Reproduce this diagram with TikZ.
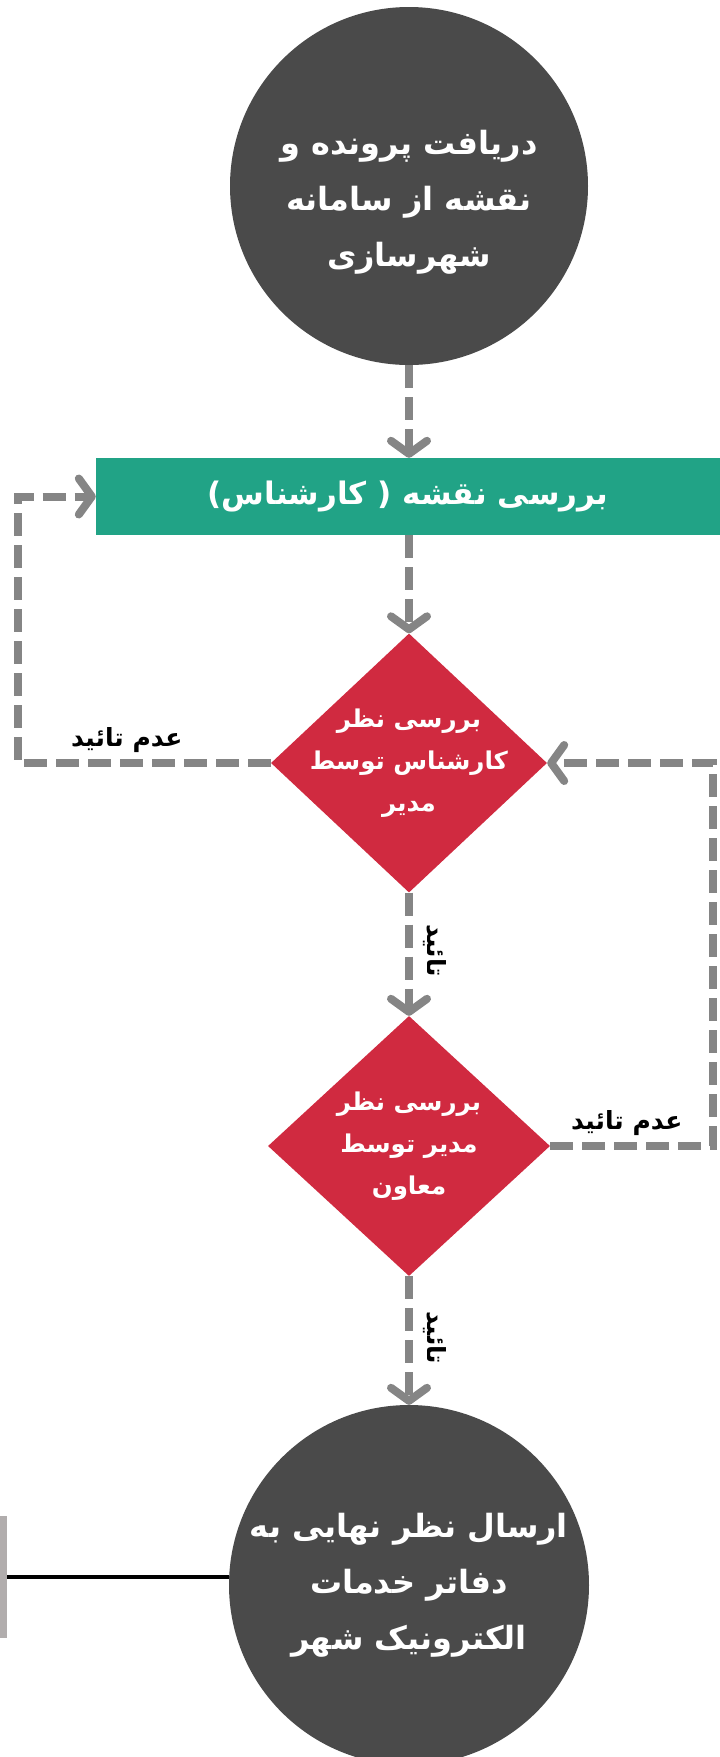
\documentclass[tikz,border=0pt]{standalone}
\usepackage{fontspec}
\usetikzlibrary{shapes.geometric,arrows.meta}
\TeXXeTstate=1
\newfontfamily\arabicfont[Script=Arabic]{DejaVu Sans}
\newcommand{\fatext}[1]{\beginR #1\endR}
\definecolor{circlegray}{HTML}{4A4A4A}
\definecolor{stepgreen}{HTML}{21A386}
\definecolor{checkred}{HTML}{D02A40}
\definecolor{flowgray}{HTML}{858585}
\definecolor{bargray}{HTML}{B1ADAD}
\begin{document}
\begin{tikzpicture}[x=1pt,y=-1pt]
        \tikzstyle{terminal}=[circle,fill=circlegray,minimum size=358pt,inner sep=0pt]
        \tikzstyle{roundtext}=[text=white,align=center,font=\arabicfont\bfseries\fontsize{32}{56}\selectfont]
        \tikzstyle{task}=[rectangle,fill=stepgreen,text=white,minimum width=624pt,minimum height=77pt,inner sep=0pt,font=\arabicfont\bfseries\fontsize{31}{36}\selectfont]
        \tikzstyle{decision}=[diamond,fill=checkred,minimum width=276pt,minimum height=259pt,inner sep=0pt]
        \tikzstyle{inside}=[text=white,align=center,font=\arabicfont\bfseries\fontsize{24.5}{42}\selectfont]
        \tikzstyle{answer}=[text=black,font=\arabicfont\bfseries\fontsize{25}{30}\selectfont,inner sep=6pt]
        \tikzstyle{edge}=[draw=flowgray,line width=8pt,dash pattern=on 23pt off 9pt,-{Straight Barb[length=13pt,width=36pt,round]}]
        \tikzstyle{bar}=[rectangle,fill=bargray,minimum width=7pt,minimum height=122pt,inner sep=0pt]
        \useasboundingbox (0,0) rectangle (720,1757);
        \node [terminal] (c1) at (409,186) {};
        \node [roundtext] (t0) at (409,202) {\fatext{دریافت پرونده و}\\\fatext{نقشه از سامانه}\\\fatext{شهرسازی}};
        \node [task] (r1) at (408,496.5) {\fatext{بررسی نقشه ( کارشناس)}};
        \node [decision] (d1) at (409,763) {};
        \node [inside] (t1) at (d1) {\fatext{بررسی نظر}\\\fatext{کارشناس توسط}\\\fatext{مدیر}};
        \node [decision, minimum width=282pt, minimum height=260pt] (d2) at (409,1146) {};
        \node [inside] (t2) at (d2) {\fatext{بررسی نظر}\\\fatext{مدیر توسط}\\\fatext{معاون}};
        \node [terminal, minimum size=360pt] (c2) at (409,1585) {};
        \node [roundtext] (t3) at (c2) {\fatext{ارسال نظر نهایی به}\\\fatext{دفاتر خدمات}\\\fatext{الکترونیک شهر}};
        \node [bar] (b1) at (3.5,1577) {};
        \coordinate (lx) at (18,763);
        \coordinate (rx) at (713,1146);
        \path[edge] (c1) -- (r1.north -| c1);
        \path[edge] (r1.south -| d1) -- (d1.north);
        \path[edge] (d1.west) -- node[answer, above, pos=0.57] {\fatext{عدم تائید}} (lx) |- (r1.west);
        \path[edge] (d1.south) -- node[answer, rotate=-90, anchor=south, inner sep=10pt, pos=0.47] {\fatext{تائید}} (d2.north);
        \path[edge] (d2.east) -- node[answer, above, pos=0.47] {\fatext{عدم تائید}} (rx) |- (d1.east);
        \path[edge] (d2.south) -- node[answer, rotate=-90, anchor=south, inner sep=10pt, pos=0.48] {\fatext{تائید}} (c2.north);
        \draw[line width=4pt] (b1.east) -- (b1.east -| c2.west);
\end{tikzpicture}
\end{document}
